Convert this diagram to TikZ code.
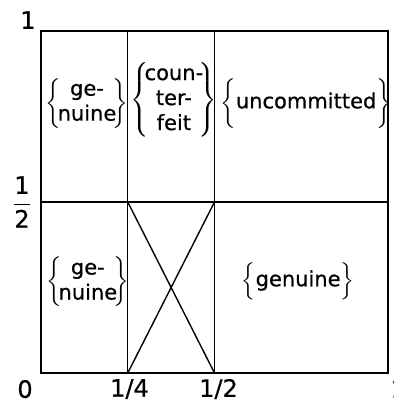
\documentclass[tikz,border=0pt]{standalone}
\usepackage{amsmath}
\usepackage{fontspec}
\setmainfont[FakeBold=0.6]{DejaVu Sans}

\begin{document}
\begin{tikzpicture}[x=347pt,y=342pt,
  grid/.style={line width=1.4pt},
  cell/.style={font=\fontsize{21}{25}\selectfont,inner sep=0pt},
  axis/.style={font=\fontsize{24}{28}\selectfont,inner sep=0pt}]
\useasboundingbox (-0.11816,-0.08772) rectangle (1.01441,1.09064);
% square, halves and quarter line
\draw[grid] (0,0) rectangle (1,1);
\draw[grid] (0,0.5) -- (1,0.5);
\draw[grid] (0.25,0) -- (0.25,1);
\draw[grid] (0.5,0) -- (0.5,1);
% cross in the empty cell
\coordinate (xbl) at (0.25,0);
\coordinate (xbr) at (0.5,0);
\coordinate (xtl) at (0.25,0.5);
\coordinate (xtr) at (0.5,0.5);
\draw[grid] (xtl) -- (xbr);
\draw[grid] (xbl) -- (xtr);
% axis labels
\node[axis] (ytop) at (-0.0375,1.032) {1};
\node[axis] (yhalf) at (-0.0548,0.5) {$\dfrac{\text{1}}{\text{2}}$};
\node[axis] (zero) at (-0.046,-0.047) {0};
\node[axis] (xqtr) at (0.255,-0.047) {1/4};
\node[axis] (xhalf) at (0.5115,-0.047) {1/2};
\node[axis] (xone) at (1.03,-0.047) {1};
% cell contents
\node[cell] (tl) at (0.1326,0.789) {$\left\{\mkern-3mu\begin{tabular}{@{}c@{}}ge-\\nuine\end{tabular}\mkern-3mu\right\}$};
\node[cell] (tm) at (0.383,0.798) {$\left\{\mkern-4mu\begin{tabular}{@{}c@{}}coun-\\ter-\\feit\end{tabular}\mkern-4mu\right\}$};
\node[cell] (tr) at (0.764,0.789) {$\left\{\vphantom{\begin{tabular}{@{}c@{}}A\\A\end{tabular}}\text{uncommitted}\right\}$};
\node[cell] (bl) at (0.135,0.266) {$\left\{\mkern-3mu\begin{tabular}{@{}c@{}}ge-\\nuine\end{tabular}\mkern-3mu\right\}$};
\node[cell] (br) at (0.741,0.269) {$\left\{\rule[-12pt]{0pt}{36pt}\text{genuine}\right\}$};
\end{tikzpicture}
\end{document}
